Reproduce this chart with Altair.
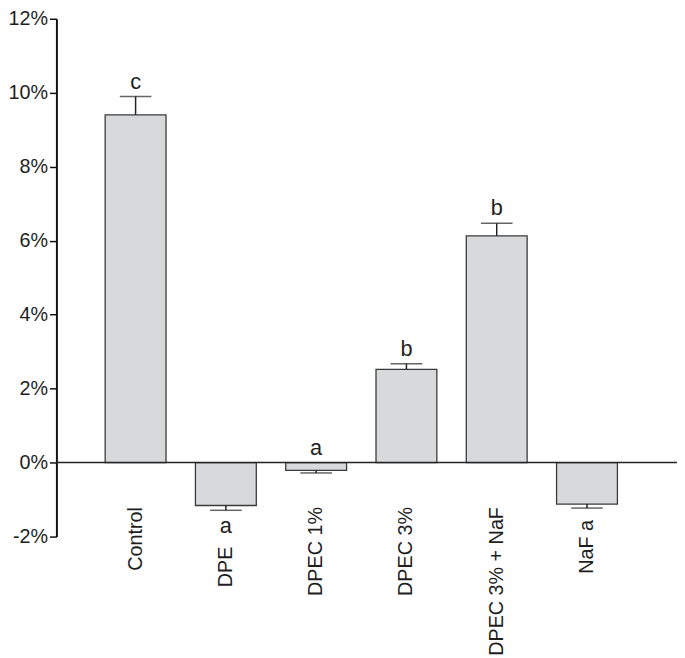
import altair as alt
import pandas as pd

categories = ["Control", "DPE", "DPEC 1%", "DPEC 3%", "DPEC 3% + NaF", "NaF"]
labels = ["Control", "DPE", "DPEC 1%", "DPEC 3%", "DPEC 3% + NaF", "NaF a"]
means = [9.40, -1.16, -0.21, 2.52, 6.13, -1.12]
errors = [9.90, -1.29, -0.28, 2.67, 6.47, -1.23]
letters = ["c", "a", "a", "b", "b", ""]
letter_side = ["above", "below", "above", "above", "above", "none"]

df = pd.DataFrame({
    "cat": categories,
    "label": labels,
    "mean": means,
    "err": errors,
    "letter": letters,
    "side": letter_side,
})
df["anchor"] = [max(e, 0) if s == "above" else e for e, s in zip(errors, letter_side)]
df["z0"] = 0.0

FONT = "Liberation Sans"
TXT = "#1e1e1e"

x = alt.X("cat:N", sort=categories, axis=None,
          scale=alt.Scale(paddingInner=0.326, paddingOuter=0.6, align=0.45))
yscale = alt.Scale(domain=[-2, 12], nice=False, zero=False)

base = alt.Chart(df)

bars = base.mark_bar(fill="#d8d9db", stroke="#3a3a3a", strokeWidth=1.3).encode(
    x=x,
    y=alt.Y("mean:Q", scale=yscale,
            axis=alt.Axis(values=[-2, 0, 2, 4, 6, 8, 10, 12], title=None, grid=False,
                          labelExpr="datum.value + '%'", labelFontSize=20, labelFont=FONT,
                          labelColor=TXT, tickSize=7, tickWidth=1.5, tickColor="#111",
                          domainColor="#111", domainWidth=2, labelPadding=2)),
)

zero = alt.Chart(pd.DataFrame({"z": [0]})).mark_rule(color="#222", strokeWidth=1.5).encode(
    y=alt.Y("z:Q", scale=yscale)
)

whisk = base.mark_rule(color="#222", strokeWidth=1.5).encode(
    x=x, y=alt.Y("mean:Q", scale=yscale), y2="err:Q"
)
caps = base.mark_tick(color="#222", thickness=1.5, size=32).encode(
    x=x, y=alt.Y("err:Q", scale=yscale)
)

above = base.transform_filter("datum.side == 'above'").mark_text(
    baseline="bottom", dy=-3, fontSize=22, font=FONT, color=TXT
).encode(x=x, y=alt.Y("anchor:Q", scale=yscale), text="letter:N")

below = base.transform_filter("datum.side == 'below'").mark_text(
    baseline="top", dy=6, fontSize=22, font=FONT, color=TXT
).encode(x=x, y=alt.Y("anchor:Q", scale=yscale), text="letter:N")


def xlabel(filt, dx):
    return base.transform_filter(filt).mark_text(
        angle=270, align="right", baseline="middle", dx=dx, fontSize=20, font=FONT, color=TXT
    ).encode(x=x, y=alt.Y("z0:Q", scale=yscale), text="label:N")


xlab = xlabel("datum.cat != 'DPE' && datum.cat != 'NaF'", -45)
xlab_dpe = xlabel("datum.cat == 'DPE'", -85)
xlab_naf = xlabel("datum.cat == 'NaF'", -58)

chart = alt.layer(bars, zero, whisk, caps, above, below, xlab, xlab_dpe, xlab_naf).properties(
    width=628, height=524,
    autosize=alt.AutoSizeParams(type="none"),
    padding={"left": 49, "top": 7, "right": 0, "bottom": 119},
    background="white",
).configure_view(stroke=None)

chart.save("out.html", embed_options={"renderer": "svg", "actions": False})
